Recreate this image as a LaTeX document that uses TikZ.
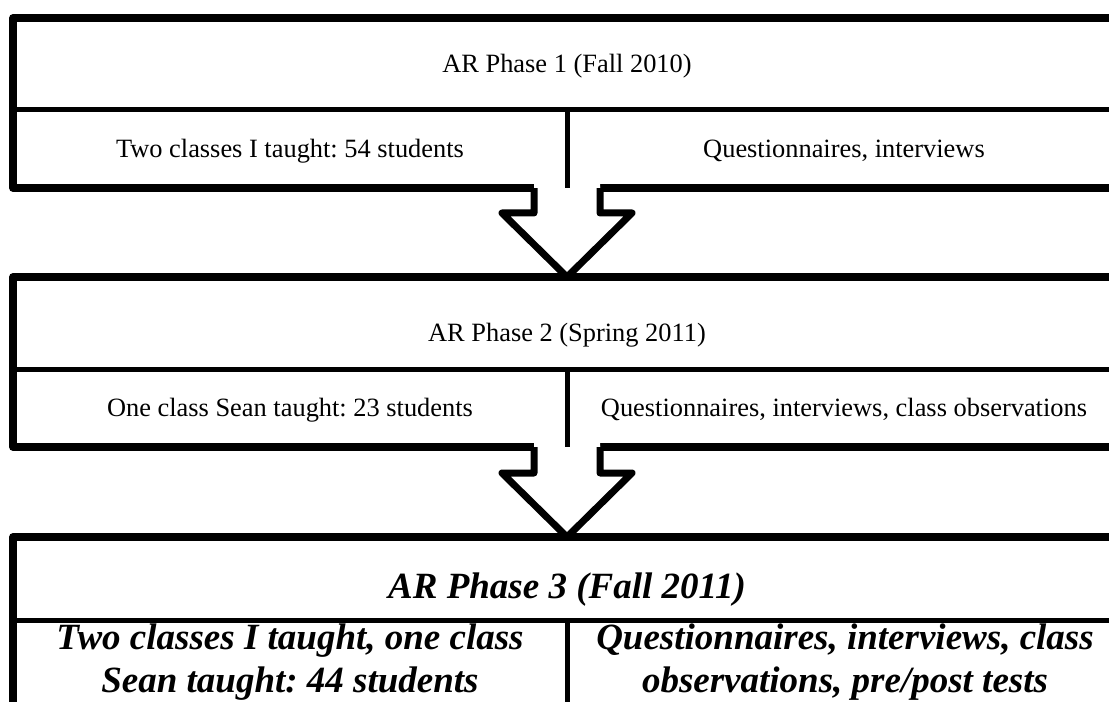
\documentclass[tikz,border=0pt]{standalone}
\usepackage{fontspec}
\setmainfont{Liberation Serif}
\frenchspacing
\usetikzlibrary{calc,shadows}
\tikzset{
  frame/.style={draw=black, line width=7.5bp, fill=white, line join=round, inner sep=0pt, outer sep=0pt,
    drop shadow={opacity=0.25, shadow xshift=1bp, shadow yshift=-2.5bp}},
  divider/.style={draw=black, line width=5bp},
  blockfill/.style={fill=white, draw=none},
  blockline/.style={draw=black, line width=7bp, line join=round},
  regtext/.style={font=\fontsize{26.4bp}{30bp}\selectfont, anchor=base, inner sep=0pt},
  bigtext/.style={font=\fontsize{37bp}{42.5bp}\selectfont\bfseries\itshape, align=center, anchor=base, inner sep=0pt}
}
\begin{document}
\begin{tikzpicture}[x=1bp,y=-1bp]
\path[use as bounding box, clip] (0,0) rectangle (1109,702);
\fill[white] (0,0) rectangle (1109,702);
% boxes
\node[frame, minimum width=1108bp, minimum height=170bp] (b1) at (567,103) {};
\node[frame, minimum width=1108bp, minimum height=170bp] (b2) at (567,362) {};
\node[frame, minimum width=1108bp, minimum height=230bp] (b3) at (567,652) {};
% horizontal dividers
\draw[divider] ($(b1.north west)+(0,92)$) coordinate (d1w) -- ($(b1.north east)+(0,92)$) coordinate (d1e);
\draw[divider] ($(b2.north west)+(0,92)$) coordinate (d2w) -- ($(b2.north east)+(0,92)$) coordinate (d2e);
\draw[divider] ($(b3.north west)+(0,83)$) coordinate (d3w) -- ($(b3.north east)+(0,83)$) coordinate (d3e);
% block arrows
\foreach \u/\l in {b1/b2, b2/b3}{
  \path[blockfill, drop shadow={opacity=0.25, shadow xshift=1bp, shadow yshift=-2.5bp}]
    ($(\u.south)+(-33,-4)$) |- ($(\l.north)+(-65,-64)$) -- (\l.north)
    -- ($(\l.north)+(65,-64)$) -| ($(\u.south)+(33,-4)$) -- cycle;
  \draw[blockline]
    ($(\u.south)+(-33,0)$) |- ($(\l.north)+(-65,-64)$) -- (\l.north)
    -- ($(\l.north)+(65,-64)$) -| ($(\u.south)+(33,0)$);
}
% vertical dividers
\draw[divider] ($(d1w)!0.5!(d1e)$) -- (b1.south);
\draw[divider] ($(d2w)!0.5!(d2e)$) -- (b2.south);
\draw[divider] ($(d3w)!0.5!(d3e)$) -- (b3.south);
% texts
\node[regtext] (t1) at (567,73) {AR Phase 1 (Fall 2010)};
\node[regtext] (l1) at (290,158) {Two classes I taught: 54 students};
\node[regtext] (r1) at (844,158) {Questionnaires, interviews};
\node[regtext] (t2) at (567,341) {AR Phase 2 (Spring 2011)};
\node[regtext] (l2) at (290,416) {One class Sean taught: 23 students};
\node[regtext] (r2) at (844,416) {Questionnaires, interviews, class observations};
\node[bigtext] (t3) at (567,598) {AR Phase 3 (Fall 2011)};
\node[bigtext] (l3) at (290,692) {Two classes I taught, one class\\Sean taught: 44 students};
\node[bigtext] (r3) at (845,692) {Questionnaires, interviews, class\\observations, pre/post tests};
\end{tikzpicture}
\end{document}
